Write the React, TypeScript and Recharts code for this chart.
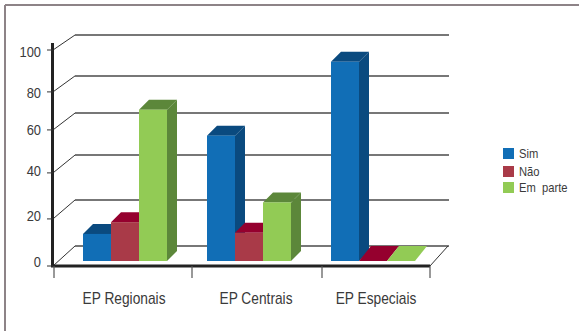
import React from "react";
import { BarChart, Bar, XAxis, YAxis, CartesianGrid, Legend } from "recharts";

const categories = ["EP Regionais", "EP Centrais", "EP Especiais"];
const simValues = [11.5, 55, 92];
const naoValues = [16.5, 12, 0];
const emParteValues = [68, 25, 0];
const yTicks = [0, 20, 40, 60, 80, 100];
// axis positions of the y ticks, as a share of the axis height (the axis is not evenly spaced)
const yTickShares = [0, 0.218, 0.431, 0.63, 0.806, 1];

const seriesStyles = [
  { key: "sim", name: "Sim", front: "#116eb6", top: "#0a4a7f", side: "#0a4a7f", flat: "#0a4a7f" },
  { key: "nao", name: "Não", front: "#a93a48", top: "#95002e", side: "#7d1a30", flat: "#95002e" },
  { key: "emParte", name: "Em  parte", front: "#92cb55", top: "#5c873a", side: "#5c873a", flat: "#92cb55" },
];

const data = categories.map((name, i) => ({
  name,
  sim: simValues[i],
  nao: naoValues[i],
  emParte: emParteValues[i],
}));

const FONT = '"Liberation Sans", sans-serif';
const NARROW = 0.86; // the typeface is condensed, so squeeze the glyphs
const FLOOR_TICKS = [54, 192, 322, 430];
const LABEL_SHIFTS = [9, 17, 13]; // category labels are not quite centred on their groups
const INK = "#3a3a3a";

// d3-style scale that goes through the tick positions above
function makeYScale() {
  let dom = [0, 100];
  let rng = [1, 0];
  const s: any = (v: number) => {
    const t = (v - dom[0]) / (dom[1] - dom[0]);
    const raw = t * (yTicks.length - 1);
    const i = Math.min(Math.max(Math.floor(raw), 0), yTicks.length - 2);
    const share = yTickShares[i] + (yTickShares[i + 1] - yTickShares[i]) * (raw - i);
    return rng[0] + (rng[1] - rng[0]) * share;
  };
  s.domain = (d?: number[]) => (d ? ((dom = [...d]), s) : dom);
  s.range = (r?: number[]) => (r ? ((rng = [...r]), s) : rng);
  s.copy = () => makeYScale().domain(dom).range(rng);
  s.ticks = () => yTicks;
  return s;
}

// Box with a front, top and side face, sitting slightly behind the axis floor
const Box3D = (props: any) => {
  const { x, y, width, height, front, top, side, flat } = props;
  const left = x + 10;
  const right = left + width;
  const upper = y - 5;
  const lower = upper + height;
  if (height < 0.5) {
    return (
      <polygon
        points={`${left},${lower} ${right},${lower} ${right + 12},${lower - 15} ${left + 12},${lower - 15}`}
        fill={flat}
      />
    );
  }
  const d = 10;
  return (
    <g>
      <polygon points={`${right},${upper} ${right + d},${upper - d} ${right + d},${lower - d} ${right},${lower}`} fill={side} />
      <polygon points={`${left},${upper} ${right},${upper} ${right + d},${upper - d} ${left + d},${upper - d}`} fill={top} />
      <rect x={left} y={upper} width={width} height={height} fill={front} />
    </g>
  );
};

// Gridline on the back wall plus the diagonal back to the axis
const WallLine = (props: any) => {
  const y = props.y1;
  const rise = 15 + ((y - 50) / 216) * 5;
  const atFloor = y > 260;
  return (
    <g key={props.key} fill="none">
      <line x1={53} y1={y} x2={75} y2={y - rise} stroke="#333" strokeWidth={1} />
      <line x1={75} y1={y - rise} x2={449} y2={y - rise} stroke="#4a4a4a" strokeWidth={1.4} />
      {atFloor && <line x1={430} y1={y} x2={448} y2={y - rise} stroke="#333" strokeWidth={1} />}
    </g>
  );
};

const YTick = (props: any) => {
  const { x, y, payload } = props;
  const nudge = 2 - ((y - 50) / 216) * 6;
  return (
    <text
      transform={`translate(${x - 4},${y + nudge + 5}) scale(${NARROW},1)`}
      textAnchor="end"
      fontFamily={FONT}
      fontSize={15}
      fill={INK}
    >
      {payload.value}
    </text>
  );
};

const XTick = (props: any) => {
  const { x, y, payload, index } = props;
  return (
    <text
      transform={`translate(${x + LABEL_SHIFTS[index]},${y + 30}) scale(${NARROW},1)`}
      textAnchor="middle"
      fontFamily={FONT}
      fontSize={16}
      fill={INK}
    >
      {payload.value}
    </text>
  );
};

const LegendList = () => (
  <div style={{ fontFamily: FONT, fontSize: 13, color: INK }}>
    {seriesStyles.map((s, i) => (
      <div key={s.key} style={{ position: "absolute", left: 0, top: [0, 18, 34][i], height: 11, whiteSpace: "pre" }}>
        <span style={{ position: "absolute", left: 0, top: 0, width: 11, height: 11, background: s.front }} />
        <span
          style={{
            position: "absolute",
            left: 16,
            top: -2,
            lineHeight: "15px",
            transform: `scaleX(${NARROW})`,
            transformOrigin: "left",
          }}
        >
          {s.name}
        </span>
      </div>
    ))}
  </div>
);

export default function App() {
  return (
    <div style={{ position: "absolute", left: 0, top: 0, width: 579, height: 331, background: "#fff" }}>
      <BarChart
        width={579}
        height={331}
        data={data}
        barSize={28}
        barGap={0}
        margin={{ top: 50, right: 154, bottom: 0, left: 0 }}
      >
        <CartesianGrid vertical={false} horizontal={WallLine} />
        <XAxis dataKey="name" height={65} axisLine={false} tickLine={false} tick={XTick} interval={0} />
        <YAxis
          width={53}
          domain={[0, 100]}
          ticks={yTicks}
          scale={makeYScale() as any}
          axisLine={false}
          tickSize={6}
          tickLine={{ stroke: "#333" }}
          tick={YTick}
          interval={0}
        />
        {seriesStyles.map((s) => (
          <Bar
            key={s.key}
            dataKey={s.key}
            name={s.name}
            fill={s.front}
            isAnimationActive={false}
            shape={<Box3D front={s.front} top={s.top} side={s.side} flat={s.flat} />}
          />
        ))}
        <Legend
          content={<LegendList />}
          wrapperStyle={{ position: "absolute", left: 503, top: 148, width: 0, height: 0 }}
        />
        <g>
          <line x1={5} y1={5} x2={579} y2={5} stroke="#8d8387" strokeWidth={2} />
          <line x1={5} y1={5} x2={5} y2={331} stroke="#8d8387" strokeWidth={2} />
          <line x1={52.5} y1={43} x2={52.5} y2={267} stroke="#222" strokeWidth={3} />
          <line x1={51} y1={266} x2={430} y2={266} stroke="#222" strokeWidth={3} />
          {FLOOR_TICKS.map((t) => (
            <line key={t} x1={t} y1={266} x2={t} y2={278} stroke="#555" strokeWidth={1.2} />
          ))}
        </g>
      </BarChart>
    </div>
  );
}
